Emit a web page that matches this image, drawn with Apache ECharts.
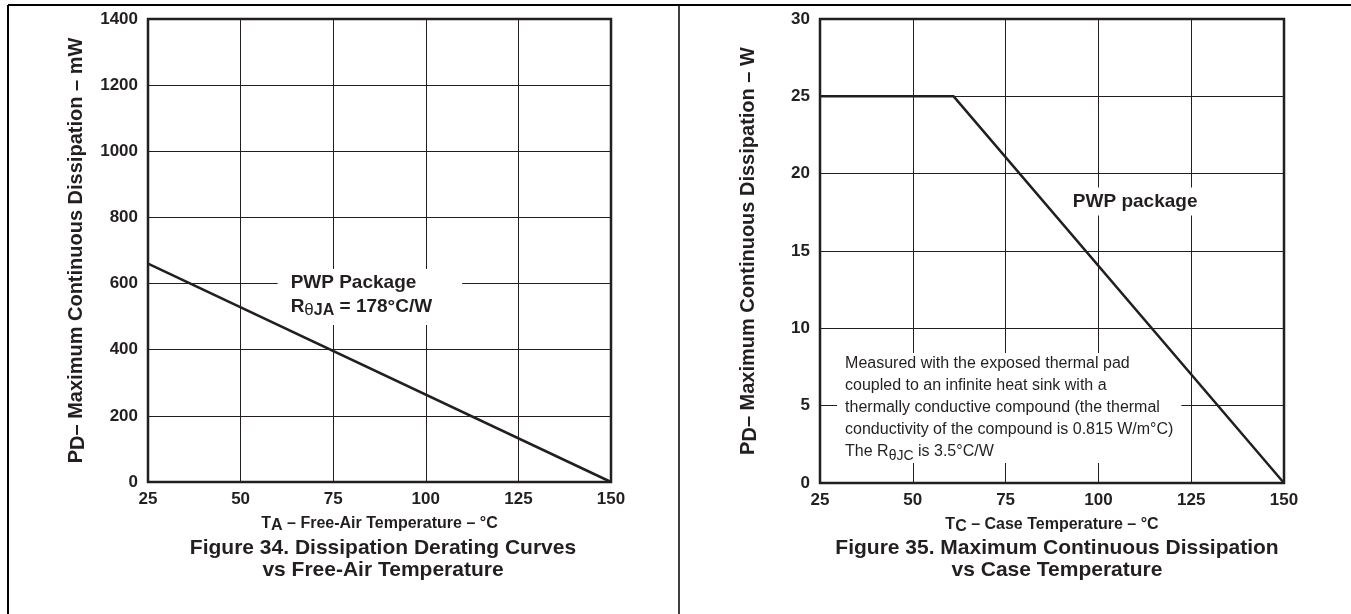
<!DOCTYPE html>
<html>
<head>
<meta charset="utf-8">
<title>Dissipation curves</title>
<script src="https://cdn.jsdelivr.net/npm/echarts@6/dist/echarts.min.js"></script>
<style>
    html, body { margin: 0; padding: 0; background: #fff; }
    #chart { width: 1351px; height: 614px; }
</style>
</head>
<body>
<div id="chart"></div>
<script>
// Figure 34 - derating, free-air
const freeAirTemp = [25, 150];
const freeAirPower = [660, 0];          // mW
// Figure 35 - case temperature
const caseTemp = [25, 61, 150];
const casePower = [25, 25, 0];          // W

const tempTicks = { min: 25, max: 150, interval: 25 };
const mwTicks = { min: 0, max: 1400, interval: 200 };
const wTicks = { min: 0, max: 30, interval: 5 };

const ink = '#231f20';
const font = '"Liberation Sans", Arial, Helvetica, sans-serif';

let chart = echarts.init(document.getElementById('chart'));

function xAxisOf(gridIndex, sym) {
    return {
        type: 'value',
        gridIndex: gridIndex,
        min: tempTicks.min,
        max: tempTicks.max,
        interval: tempTicks.interval,
        axisLine: { show: false },
        axisTick: { show: false },
        axisLabel: { color: ink, fontFamily: font, fontWeight: 'bold', fontSize: 17, margin: 9 },
        splitLine: { show: true, lineStyle: { color: ink, width: 1 } },
        name: '{b|T}{s|' + sym.sub + '}{b| \u2013 ' + sym.text + ' \u2013 \u00b0C}',
        nameLocation: 'middle',
        nameMoveOverlap: false,
        nameGap: 32,
        nameTextStyle: {
            rich: {
                b: { color: ink, fontFamily: font, fontWeight: 'bold', fontSize: 16, lineHeight: 20, verticalAlign: 'middle' },
                s: { color: ink, fontFamily: font, fontWeight: 'bold', fontSize: 16, lineHeight: 20, verticalAlign: 'bottom', padding: [9, 0, 0, 0] }
            }
        }
    };
}

function yAxisOf(gridIndex, ticks, unit) {
    return {
        type: 'value',
        gridIndex: gridIndex,
        min: ticks.min,
        max: ticks.max,
        interval: ticks.interval,
        axisLine: { show: false },
        axisTick: { show: false },
        axisLabel: {
            color: ink, fontFamily: font, fontWeight: 'bold', fontSize: 17, margin: 10,
            formatter: (v) => String(v)
        },
        splitLine: { show: true, lineStyle: { color: ink, width: 1 } },
        name: '{b|P}{s|D}{b|\u2013 Maximum Continuous Dissipation \u2013 ' + unit + '}',
        nameLocation: 'middle',
        nameRotate: 90,
        nameGap: 60,
        nameTextStyle: {
            rich: {
                b: { color: ink, fontFamily: font, fontWeight: 'bold', fontSize: 20, lineHeight: 24, verticalAlign: 'middle' },
                s: { color: ink, fontFamily: font, fontWeight: 'bold', fontSize: 20, lineHeight: 24, verticalAlign: 'bottom', padding: [10, 0, 0, 0] }
            }
        }
    };
}

const boldRich = {
    b: { color: ink, fontFamily: font, fontWeight: 'bold', fontSize: 19, lineHeight: 24 },
    s: { color: ink, fontFamily: font, fontWeight: 'bold', fontSize: 16, lineHeight: 24, verticalAlign: 'bottom', padding: [10, 0, 0, 0] },
    g: { color: ink, fontFamily: font, fontWeight: 'normal', fontSize: 17, lineHeight: 24, verticalAlign: 'bottom', padding: [10, 0, 0, 0] }
};

const noteRich = {
    n: { color: ink, fontFamily: font, fontSize: 16, lineHeight: 22 },
    s: { color: ink, fontFamily: font, fontSize: 14, lineHeight: 22, verticalAlign: 'bottom', padding: [9, 0, 0, 0] }
};

const captionStyle = { color: ink, fontFamily: font, fontWeight: 'bold', fontSize: 21, lineHeight: 22 };

let option = {
    animation: false,
    backgroundColor: '#fff',
    grid: [
        { left: 148, top: 19, width: 463, height: 463, show: true, borderColor: ink, borderWidth: 2.5, backgroundColor: 'transparent' },
        { left: 820, top: 19, width: 464, height: 464, show: true, borderColor: ink, borderWidth: 2.5, backgroundColor: 'transparent' }
    ],
    title: [
        {
            text: 'Figure 34. Dissipation Derating Curves\nvs Free-Air Temperature',
            left: 378, top: 532, textAlign: 'center',
            textStyle: captionStyle
        },
        {
            text: 'Figure 35. Maximum Continuous Dissipation\nvs Case Temperature',
            left: 1052, top: 532, textAlign: 'center',
            textStyle: captionStyle
        }
    ],
    xAxis: [
        xAxisOf(0, { sub: 'A', text: 'Free-Air Temperature' }),
        xAxisOf(1, { sub: 'C', text: 'Case Temperature' })
    ],
    yAxis: [
        yAxisOf(0, mwTicks, 'mW'),
        yAxisOf(1, wTicks, 'W')
    ],
    graphic: [
        // page frame
        { type: 'line', shape: { x1: 8, y1: 5, x2: 1351, y2: 5 }, style: { stroke: '#000', lineWidth: 2 } },
        { type: 'line', shape: { x1: 8, y1: 5, x2: 8, y2: 614 }, style: { stroke: '#000', lineWidth: 2 } },
        { type: 'line', shape: { x1: 679, y1: 5, x2: 679, y2: 614 }, style: { stroke: '#000', lineWidth: 1.5 } }
    ],
    series: [
        {
            type: 'line',
            xAxisIndex: 0,
            yAxisIndex: 0,
            z: 3,
            data: freeAirTemp.map((t, i) => [t, freeAirPower[i]]),
            symbol: 'none',
            lineStyle: { color: ink, width: 2.5 },
            markPoint: {
                z: 1,
                symbol: 'circle',
                symbolSize: 0,
                data: [{
                    coord: [60, 644],
                    label: {
                        show: true,
                        position: [0, 0],
                        backgroundColor: '#fff',
                        padding: [2, 30, 6, 13],
                        formatter: '{b|PWP Package}\n{b|R}{g|\u03b8}{s|JA}{b| = 178\u00b0C/W}',
                        rich: boldRich
                    }
                }]
            }
        },
        {
            type: 'line',
            xAxisIndex: 1,
            yAxisIndex: 1,
            z: 3,
            data: caseTemp.map((t, i) => [t, casePower[i]]),
            symbol: 'none',
            lineStyle: { color: ink, width: 2.5 },
            markPoint: {
                z: 1,
                symbol: 'circle',
                symbolSize: 0,
                data: [
                    {
                        coord: [91.5, 19.1],
                        label: {
                            show: true,
                            position: [0, 0],
                            backgroundColor: '#fff',
                            padding: [2, 6, 2, 6],
                            formatter: '{b|PWP package}',
                            rich: boldRich
                        }
                    },
                    {
                        coord: [29.6, 8.4],
                        label: {
                            show: true,
                            position: [0, 0],
                            backgroundColor: '#fff',
                            padding: [0, 8, 0, 8],
                            formatter: [
                                '{n|Measured with the exposed thermal pad}',
                                '{n|coupled to an infinite heat sink with a}',
                                '{n|thermally conductive compound (the thermal}',
                                '{n|conductivity of the compound is 0.815 W/m\u00b0C)}',
                                '{n|The R}{s|\u03b8JC}{n| is 3.5\u00b0C/W}'
                            ].join('\n'),
                            rich: noteRich
                        }
                    }
                ]
            }
        }
    ]
};

chart.setOption(option);
window.addEventListener("resize", () => {
    chart.resize();
});
</script>
</body>
</html>
